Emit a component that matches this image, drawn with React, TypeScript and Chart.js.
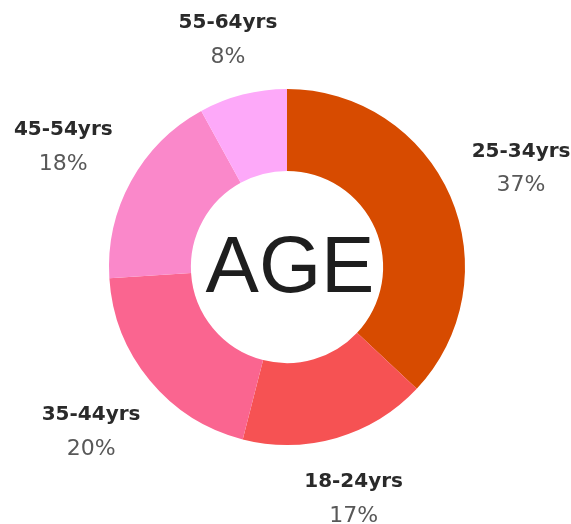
import React, { useEffect, useRef } from "react";
import { Chart, registerables } from "chart.js";

Chart.register(...registerables);

const categories = ["25-34yrs", "18-24yrs", "35-44yrs", "45-54yrs", "55-64yrs"];
const shares = [37, 17, 20, 18, 8];
const colors = ["#D74B00", "#F65253", "#FA6590", "#FA88CA", "#FDA9F9"];
const centerText = "AGE";

const LABEL_FONT = "'DejaVu Sans', Verdana, sans-serif";
const CENTER_FONT = "'Liberation Sans', Arial, sans-serif";

const labelPlugin = {
  id: "outerLabels",
  afterDraw(chart: any) {
    const ctx = chart.ctx;
    const meta = chart.getDatasetMeta(0);
    ctx.save();
    meta.data.forEach((arc: any, i: number) => {
      const p = arc.getProps(["x", "y", "startAngle", "endAngle", "outerRadius"], true);
      const mid = (p.startAngle + p.endAngle) / 2;
      const dx = Math.cos(mid);
      const dy = Math.sin(mid);
      ctx.font = `bold 20px ${LABEL_FONT}`;
      const w1 = ctx.measureText(categories[i]).width;
      ctx.font = `22px ${LABEL_FONT}`;
      const w2 = ctx.measureText(shares[i] + "%").width;
      const w = Math.max(w1, w2);
      const h = 54;
      const dist = p.outerRadius + 21 + (Math.abs(dx) * w) / 2 + (Math.abs(dy) * h) / 2;
      const cx = p.x + dx * dist;
      const cy = p.y + dy * dist + 3;
      ctx.textAlign = "center";
      ctx.textBaseline = "middle";
      ctx.fillStyle = "#2a2a2a";
      ctx.font = `bold 20px ${LABEL_FONT}`;
      ctx.fillText(categories[i], cx, cy - 17);
      ctx.fillStyle = "#585858";
      ctx.font = `22px ${LABEL_FONT}`;
      ctx.fillText(shares[i] + "%", cx, cy + 17);
    });
    const a0 = meta.data[0];
    ctx.fillStyle = "#1e1e1e";
    ctx.font = `80px ${CENTER_FONT}`;
    ctx.textAlign = "center";
    ctx.textBaseline = "middle";
    ctx.fillText(centerText, a0.x + 3, a0.y + 3);
    ctx.restore();
  },
};

export default function App() {
  const ref = useRef<HTMLCanvasElement>(null);
  useEffect(() => {
    if (!ref.current) return;
    const chart = new Chart(ref.current, {
      type: "doughnut",
      data: {
        labels: categories,
        datasets: [
          {
            data: shares,
            backgroundColor: colors,
            borderWidth: 0,
          },
        ],
      },
      options: {
        responsive: false,
        maintainAspectRatio: false,
        animation: false,
        cutout: "54%",
        layout: { padding: { left: 109, right: 106, top: 89, bottom: 79 } },
        plugins: {
          legend: { display: false },
          tooltip: { enabled: false },
        },
      },
      plugins: [labelPlugin],
    });
    return () => chart.destroy();
  }, []);
  return (
    <div style={{ position: "fixed", left: 0, top: 0, width: 571, height: 524, background: "#fff" }}>
      <canvas ref={ref} width={571} height={524} style={{ display: "block" }} />
    </div>
  );
}
